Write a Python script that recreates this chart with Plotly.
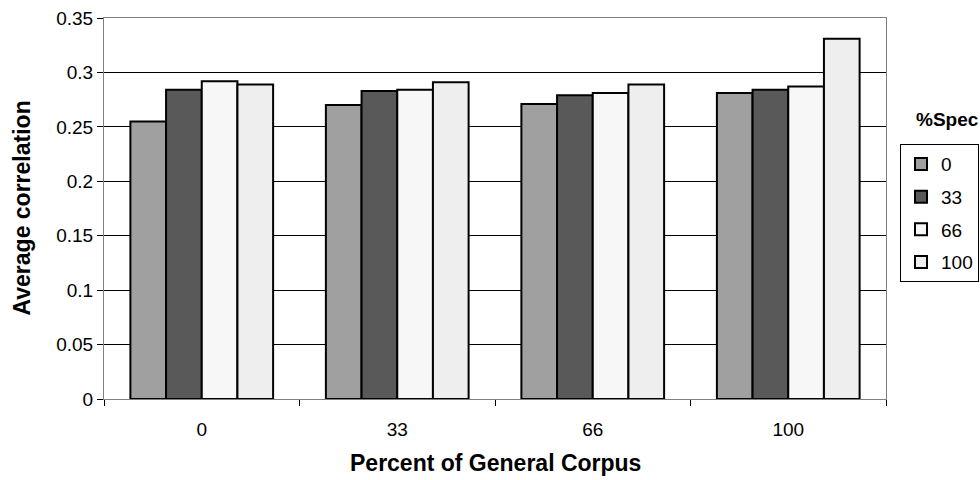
import plotly.graph_objects as go

# Percent of general corpus (x categories)
general_pct = ["0", "33", "66", "100"]

# Average correlation per %Spec series
spec_labels = ["0", "33", "66", "100"]
spec_0 = [0.255, 0.270, 0.271, 0.281]
spec_33 = [0.284, 0.283, 0.279, 0.284]
spec_66 = [0.292, 0.284, 0.281, 0.287]
spec_100 = [0.289, 0.291, 0.289, 0.331]

y_ticks = [0, 0.05, 0.1, 0.15, 0.2, 0.25, 0.3, 0.35]
y_tick_text = ["0", "0.05", "0.1", "0.15", "0.2", "0.25", "0.3", "0.35"]

series = [spec_0, spec_33, spec_66, spec_100]
fills = ["#a0a0a0", "#595959", "#f7f7f7", "#eeeeee"]

FONT = "Liberation Sans, Arial, sans-serif"

fig = go.Figure()
for name, vals, color in zip(spec_labels, series, fills):
    fig.add_trace(go.Bar(
        x=general_pct,
        y=vals,
        name=name,
        legendgroup=name,
        marker=dict(color=color, line=dict(color="black", width=2)),
    ))

fig.update_layout(
    width=980,
    height=480,
    margin=dict(l=104, r=94, t=18, b=81, autoexpand=False),
    paper_bgcolor="white",
    plot_bgcolor="white",
    barmode="group",
    bargap=0.27,
    bargroupgap=0,
    font=dict(family=FONT, size=19, color="black"),
    showlegend=True,
    legend=dict(
        x=(979 - 104) / 782, y=0.669, xanchor="right", yanchor="top",
        bordercolor="black", borderwidth=1, bgcolor="white",
        traceorder="grouped", tracegroupgap=5,
        font=dict(family=FONT, size=19, color="black"),
    ),
    xaxis=dict(
        type="category",
        showline=True, linecolor="#808080", linewidth=1, mirror=True,
        ticks="outside", tickson="boundaries", ticklen=6, tickcolor="black",
        ticklabelstandoff=13,
        showgrid=False,
    ),
    yaxis=dict(
        range=[0, 0.35],
        tickvals=y_ticks, ticktext=y_tick_text,
        showline=True, linecolor="#808080", linewidth=1, mirror=True,
        ticks="outside", ticklen=6, tickcolor="black",
        showgrid=True, gridcolor="black", gridwidth=1,
        zeroline=True, zerolinecolor="black", zerolinewidth=1,
    ),
    annotations=[
        dict(text="<b>Percent of General Corpus</b>", xref="paper", yref="paper",
             x=0.5, y=(399 - 463) / 381, xanchor="center", yanchor="middle",
             showarrow=False, font=dict(family=FONT, size=23)),
        dict(text="<b>Average correlation</b>", xref="paper", yref="paper",
             x=(21 - 104) / 782, y=0.5, xanchor="center", yanchor="middle", textangle=-90,
             showarrow=False, font=dict(family=FONT, size=23)),
        dict(text="<b>%Spec</b>", xref="paper", yref="paper",
             x=(947 - 104) / 782, y=(399 - 120) / 381, xanchor="center", yanchor="middle",
             showarrow=False, font=dict(family=FONT, size=19)),
    ],
)

fig.write_html("out.html")
